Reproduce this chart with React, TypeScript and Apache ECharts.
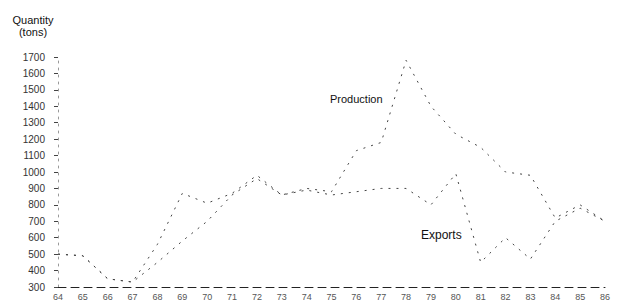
import React, { useEffect, useRef } from "react";
import * as echarts from "echarts";

const years = ["64","65","66","67","68","69","70","71","72","73","74","75","76","77","78","79","80","81","82","83","84","85","86"];
const production = [500, 490, 350, 330, 560, 870, 810, 870, 980, 860, 900, 880, 1130, 1180, 1680, 1400, 1230, 1150, 1000, 980, 720, 800, 700];
const exports_ = [500, 490, 350, 330, 450, 580, 700, 860, 960, 860, 890, 860, 880, 900, 900, 800, 990, 450, 600, 470, 700, 780, 700];
const yTicks = { min: 300, max: 1700, interval: 100 };

export default function App() {
  const ref = useRef<HTMLDivElement>(null);
  useEffect(() => {
    const chart = echarts.init(ref.current!, null, { renderer: "svg" });
    const font = "'Liberation Sans', Arial, sans-serif";
    chart.setOption({
      animation: false,
      backgroundColor: "#fff",
      grid: { left: 58, right: 16, top: 57, bottom: 17 },
      xAxis: {
        type: "category",
        data: years,
        boundaryGap: false,
        axisLine: { show: true, lineStyle: { color: "#222", width: 1, type: [8, 5] } },
        axisTick: { show: false },
        axisLabel: { color: "#555", fontSize: 9, fontFamily: font, margin: 5 },
        splitLine: { show: false },
      },
      yAxis: {
        type: "value",
        min: yTicks.min,
        max: yTicks.max,
        interval: yTicks.interval,
        axisLine: { show: true, lineStyle: { color: "#999", width: 1, type: [2, 5] } },
        axisTick: { show: true, length: 4, lineStyle: { color: "#444" } },
        axisLabel: {
          color: "#333",
          fontSize: 10,
          fontFamily: font,
          margin: 13,
          formatter: (v: number) => String(v),
        },
        splitLine: { show: false },
      },
      series: [
        {
          name: "Production",
          type: "line",
          data: production,
          symbol: "none",
          lineStyle: { color: "#444", width: 1, type: [2, 6] },
        },
        {
          name: "Exports",
          type: "line",
          data: exports_,
          symbol: "none",
          lineStyle: { color: "#444", width: 1, type: [2, 6] },
        },
      ],
      graphic: [
        {
          type: "text",
          x: 33,
          y: 14,
          style: {
            text: "Quantity\n(tons)",
            fill: "#111",
            font: `11px ${font}`,
            align: "center",
            lineHeight: 12,
          },
        },
        {
          type: "text",
          left: 330,
          top: 93,
          style: { text: "Production", fill: "#111", font: `11px ${font}` },
        },
        {
          type: "text",
          left: 421,
          top: 229,
          style: { text: "Exports", fill: "#111", font: `12px ${font}` },
        },
      ],
    });
    return () => chart.dispose();
  }, []);
  return (
    <div
      ref={ref}
      style={{ position: "fixed", left: 0, top: 0, width: 621, height: 304 }}
    />
  );
}
